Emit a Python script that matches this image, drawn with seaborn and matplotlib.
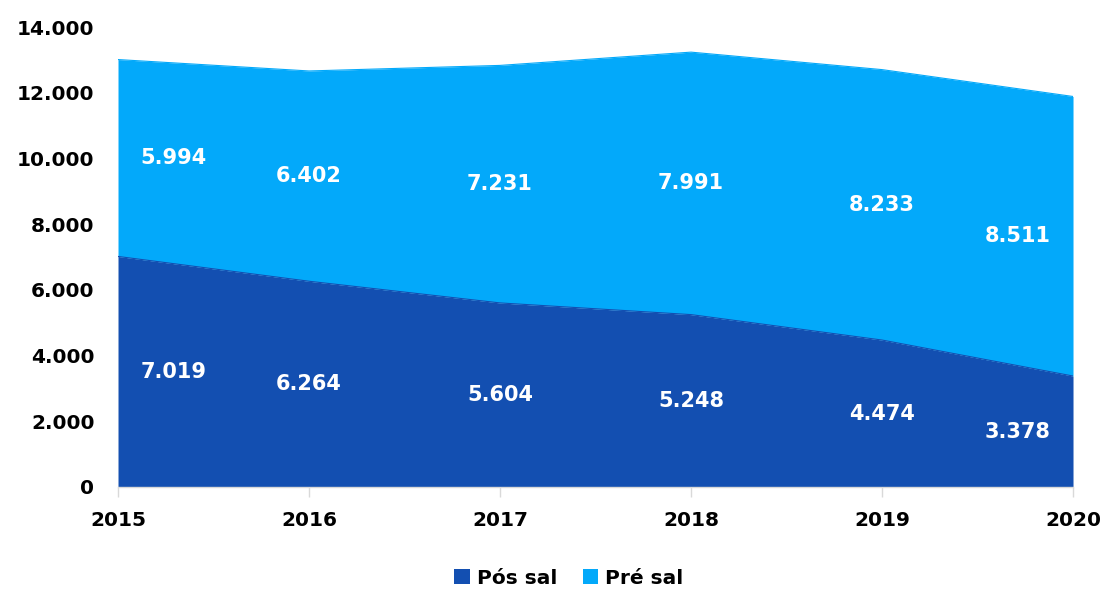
import numpy as np
import pandas as pd
import matplotlib
matplotlib.use('Agg')
import matplotlib.pyplot as plt
import seaborn as sns
from matplotlib.patches import Patch

# dados
anos = [2015, 2016, 2017, 2018, 2019, 2020]
pos_sal = [7019, 6264, 5604, 5248, 4474, 3378]
pre_sal = [5994, 6402, 7231, 7991, 8233, 8511]
series = ['Pós sal', 'Pré sal']
cores = ['#134FB1', '#03A9FA']

def fmt(v):
    return f'{v:,.0f}'.replace(',', '.')

df = pd.DataFrame({'ano': anos, 'Pós sal': pos_sal, 'Pré sal': pre_sal})
df['topo_pos'] = df['Pós sal']
df['topo_pre'] = df['Pós sal'] + df['Pré sal']

sns.set_theme(style='white')
plt.rcParams['font.family'] = ['DejaVu Sans']
plt.rcParams['font.weight'] = 'bold'
plt.rcParams['text.color'] = 'black'

fig = plt.figure(figsize=(11.07, 5.9), dpi=100)
ax = fig.add_axes([0.1066, 0.1746, 0.8627, 0.7794])

# areas empilhadas
ax.fill_between(df['ano'], 0, df['topo_pos'], color=cores[0], linewidth=0)
ax.fill_between(df['ano'], df['topo_pos'], df['topo_pre'], color=cores[1], linewidth=0)
sns.lineplot(data=df, x='ano', y='topo_pos', color=cores[0], lw=0.8, ax=ax)
sns.lineplot(data=df, x='ano', y='topo_pre', color=cores[1], lw=0.8, ax=ax)

# rótulos
n = len(anos)
for i, row in df.iterrows():
    if i == 0:
        ha, dx = 'left', 16
    elif i == n - 1:
        ha, dx = 'right', -16
    else:
        ha, dx = 'center', 0
    ax.annotate(fmt(row['Pós sal']), (row['ano'], row['Pós sal'] / 2),
                xytext=(dx, 0), textcoords='offset points', ha=ha, va='center',
                color='white', fontsize=15, fontweight='bold')
    ax.annotate(fmt(row['Pré sal']), (row['ano'], row['Pós sal'] + row['Pré sal'] / 2),
                xytext=(dx, 0), textcoords='offset points', ha=ha, va='center',
                color='white', fontsize=15, fontweight='bold')

ax.set_xlim(anos[0], anos[-1])
ax.set_ylim(0, 14000)
ax.set_yticks(np.arange(0, 14001, 2000))
ax.set_yticklabels([fmt(v) for v in np.arange(0, 14001, 2000)])
ax.set_xticks(anos)
ax.set_xticklabels([str(a) for a in anos])
ax.set_xlabel('')
ax.set_ylabel('')

for s in ['top', 'right', 'left']:
    ax.spines[s].set_visible(False)
ax.spines['bottom'].set_color('#D9D9D9')
ax.spines['bottom'].set_linewidth(1)
ax.tick_params(axis='x', length=7, width=1, color='#D9D9D9', pad=10,
               labelsize=14.5, labelcolor='black', bottom=True)
ax.tick_params(axis='y', length=0, pad=17, labelsize=14.5, labelcolor='black')
for lbl in ax.get_xticklabels() + ax.get_yticklabels():
    lbl.set_fontweight('bold')

handles = [Patch(facecolor=c, edgecolor='none') for c in cores]
leg = fig.legend(handles, series, loc='center', bbox_to_anchor=(0.514, 0.02), ncol=2,
                 frameon=False, handlelength=0.75, handleheight=0.75, handletextpad=0.35,
                 columnspacing=1.3, prop={'size': 14.5, 'weight': 'bold'})
for t in leg.get_texts():
    t.set_color('black')

fig.savefig('out.png', dpi=100)
